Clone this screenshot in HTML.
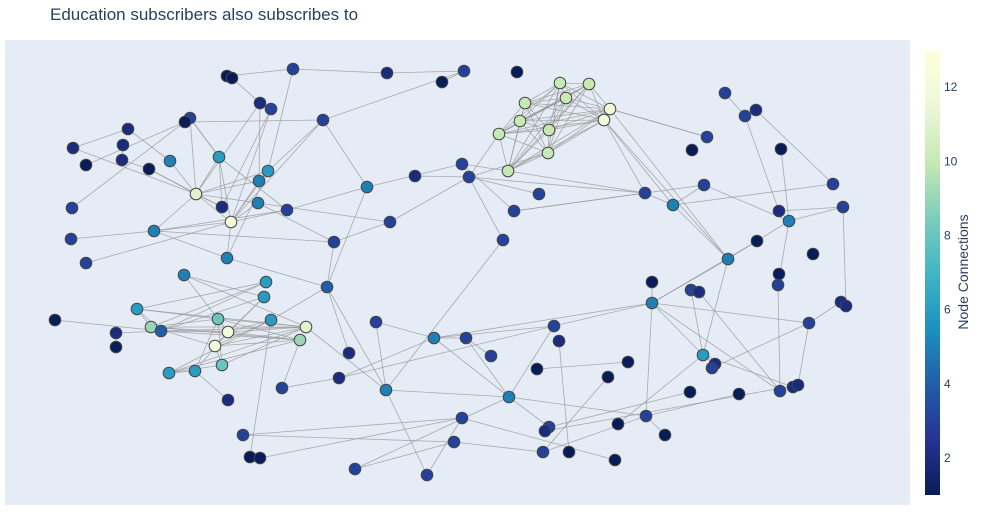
<!DOCTYPE html>
<html><head><meta charset="utf-8">
<style>
body{margin:0;background:#fff;font-family:"Liberation Sans",sans-serif;}
svg text{font-family:"Liberation Sans",sans-serif;}
</style></head>
<body>
<svg id="chart" width="985" height="525" xmlns="http://www.w3.org/2000/svg">
<defs>
<linearGradient id="cbgrad" x1="0" y1="1" x2="0" y2="0">
<stop offset="0" stop-color="rgb(8,29,88)"/>
<stop offset="0.125" stop-color="rgb(37,52,148)"/>
<stop offset="0.25" stop-color="rgb(34,94,168)"/>
<stop offset="0.375" stop-color="rgb(29,145,192)"/>
<stop offset="0.5" stop-color="rgb(65,182,196)"/>
<stop offset="0.625" stop-color="rgb(127,205,187)"/>
<stop offset="0.75" stop-color="rgb(199,233,180)"/>
<stop offset="0.875" stop-color="rgb(237,248,217)"/>
<stop offset="1" stop-color="rgb(255,255,217)"/>
</linearGradient>
</defs>
<text x="50" y="20" font-size="17" fill="#2a3f5f">Education subscribers also subscribes to</text>
<rect x="5" y="40" width="905" height="465" fill="#e5ecf6"/>
<g id="edges"></g>
<g id="nodes"></g>
<g>
<rect x="925" y="50" width="15" height="445" fill="url(#cbgrad)"/>
<g id="cbticks"></g>
<text transform="translate(968,272) rotate(-90)" text-anchor="middle" font-size="14" fill="#2a3f5f">Node Connections</text>
</g>
</svg>
<script>
const nodeX=[227,232,293,387,442,464,517,260,271,190,185,128,73,123,86,122,149,170,219,268,259,323,196,222,258,287,231,72,154,71,86,227,334,367,415,462,469,390,503,514,539,645,673,704,560,589,525,566,610,520,604,499,549,548,508,725,745,756,707,692,781,833,779,789,843,757,728,813,779,778,652,691,699,652,841,846,809,184,266,264,137,327,55,151,161,218,271,306,228,215,300,116,116,376,349,434,466,491,554,559,222,195,169,282,339,386,228,537,509,628,608,703,715,712,690,739,780,793,798,646,618,665,549,545,462,454,543,569,615,243,250,260,355,427];
const nodeY=[76,78,69,73,82,71,72,103,109,118,122,129,148,145,165,160,169,161,157,171,181,120,194,207,203,210,222,208,231,239,263,258,242,187,176,164,177,222,240,211,194,193,205,185,83,84,103,98,109,121,120,134,130,153,171,93,116,110,137,150,149,184,211,221,207,241,259,254,274,285,282,290,292,303,302,306,323,275,282,297,309,287,320,327,331,319,320,327,332,346,340,333,347,322,353,338,338,356,326,341,365,371,373,388,378,390,400,369,397,362,377,355,364,368,392,394,391,387,385,416,424,435,427,431,418,442,452,452,460,435,457,458,469,475];
const nodeDeg=[1,1,3,2,1,3,1,2,3,3,1,2,2,2,1,2,1,5,6,6,5,3,11,2,5,3,12,3,5,3,3,5,3,5,2,3,3,3,3,3,3,3,5,3,10,10,10,10,12,10,12,10,10,10,10,3,3,2,3,1,1,3,2,5,3,1,5,1,1,3,1,3,2,5,2,2,3,5,6,6,6,4,1,9,4,8,6,11,12,12,9,2,1,3,2,5,3,3,3,2,8,6,6,3,2,5,2,1,5,1,1,6,2,3,1,1,3,2,2,3,1,1,3,2,3,3,3,1,1,3,1,1,3,3];
const edgeFrom=[23,23,23,23,23,23,23,23,23,23,23,27,27,27,27,27,27,27,27,27,19,19,21,21,20,20,18,29,29,29,32,32,32,25,25,24,13,15,16,28,12,1,3,4,6,2,9,31,22,22,34,34,35,37,37,37,36,38,40,41,42,43,43,44,56,57,58,59,61,62,63,64,64,64,66,67,67,49,51,55,52,74,74,74,74,74,74,72,73,112,112,114,77,75,76,70,116,120,120,115,112,71,99,99,100,108,109,109,109,111,98,78,78,78,79,79,80,81,81,81,84,84,84,85,85,86,86,86,86,87,87,88,88,88,89,89,89,90,90,90,91,101,102,82,82,79,80,83,92,93,88,102,87,94,94,96,96,104,105,106,106,82,87,130,130,132,133,133,134,125,126,127,124,39,40,14,10,11,17,26,33,49,51,51,54,55,86,88,89,87,103,101,81,80];
const edgeTo=[19,20,21,24,27,18,29,10,8,17,25,19,20,21,25,32,29,22,9,26,10,26,8,20,3,22,12,30,33,26,29,82,20,33,38,19,23,11,17,10,13,3,4,6,5,8,24,27,34,6,36,82,37,42,39,36,40,37,42,37,43,44,67,64,57,63,62,49,64,43,65,65,70,67,74,74,112,59,43,36,37,77,96,99,112,117,120,112,117,118,113,77,119,77,65,117,120,109,122,123,121,74,96,109,128,110,96,123,97,127,97,88,86,80,84,85,90,86,85,84,89,86,91,88,91,88,89,91,101,89,90,89,90,103,90,91,102,91,101,84,104,103,103,95,106,81,85,85,85,92,106,107,82,106,96,97,105,105,99,134,109,33,131,126,125,125,126,109,125,129,127,120,119,106,44,16,19,22,24,34,38,67,42,67,37,42,102,84,85,103,91,88,88,89];
// fully connected subscriber cluster (node ids)
const cliqueNodes=[45,46,47,48,49,50,51,52,53,54,55];
const X0=5,X1=910,Y0=40,Y1=505;
const xScale=v=>X0+(v-X0)*(X1-X0)/(X1-X0);
const yScale=v=>Y0+(v-Y0)*(Y1-Y0)/(Y1-Y0);
const cbMin=1,cbMax=13,cbTop=50,cbBot=495;
const cbScale=v=>cbBot-(v-cbMin)/(cbMax-cbMin)*(cbBot-cbTop);
const cbTickVals=[2,4,6,8,10,12];
const stops=[[8,29,88],[37,52,148],[34,94,168],[29,145,192],[65,182,196],[127,205,187],[199,233,180],[237,248,217],[255,255,217]];
function color(d){let t=(d-cbMin)/(cbMax-cbMin);t=Math.max(0,Math.min(1,t));const p=t*8;const i=Math.min(7,Math.floor(p));const f=p-i;const a=stops[i],b=stops[i+1];return `rgb(${a.map((c,k)=>Math.round(c+(b[k]-c)*f)).join(',')})`;}
const NS='http://www.w3.org/2000/svg';
const eg=document.getElementById('edges');
const pairs=[];
for(let i=0;i<edgeFrom.length;i++)pairs.push([edgeFrom[i],edgeTo[i]]);
for(let i=0;i<cliqueNodes.length;i++)for(let j=i+1;j<cliqueNodes.length;j++)pairs.push([cliqueNodes[i],cliqueNodes[j]]);
pairs.forEach(p=>{
 const a=p[0]-1,b=p[1]-1;
 const l=document.createElementNS(NS,'line');
 
 
 l.setAttribute('x1',xScale(nodeX[a]));l.setAttribute('y1',yScale(nodeY[a]));
 l.setAttribute('x2',xScale(nodeX[b]));l.setAttribute('y2',yScale(nodeY[b]));
 l.setAttribute('stroke','#999');l.setAttribute('stroke-width','0.8');l.setAttribute('stroke-opacity','0.8');
 eg.appendChild(l);
});
const ng=document.getElementById('nodes');
for(let i=0;i<nodeX.length;i++){
 const c=document.createElementNS(NS,'circle');
 
 
 c.setAttribute('cx',xScale(nodeX[i]));c.setAttribute('cy',yScale(nodeY[i]));c.setAttribute('r','5.8');
 c.setAttribute('fill',color(nodeDeg[i]));c.setAttribute('stroke','#444');c.setAttribute('stroke-width','1');
 ng.appendChild(c);
}
const tg=document.getElementById('cbticks');
cbTickVals.forEach(v=>{
 const t=document.createElementNS(NS,'text');
 
 
 t.setAttribute('x',944);t.setAttribute('y',cbScale(v)+4);
 t.setAttribute('font-size','12');t.setAttribute('fill','#2a3f5f');
 t.textContent=v;tg.appendChild(t);
});
</script>
</body></html>
